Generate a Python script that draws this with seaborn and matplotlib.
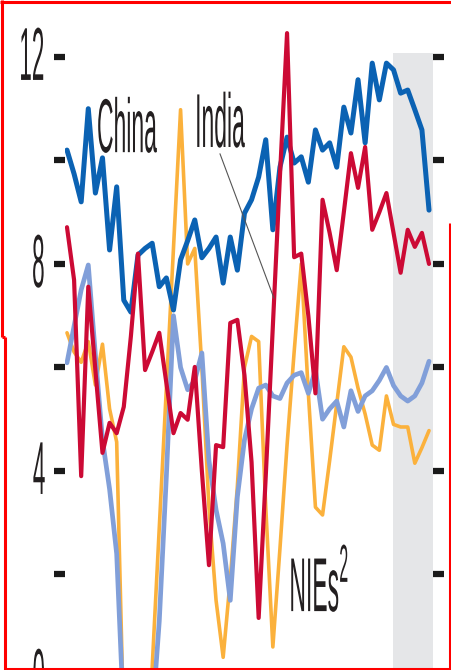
import numpy as np
import pandas as pd
import seaborn as sns
import matplotlib
matplotlib.use('Agg')
import matplotlib.pyplot as plt
from matplotlib.patheffects import AbstractPathEffect
from matplotlib.transforms import Affine2D
from matplotlib.lines import Line2D

# quarterly real GDP growth, % on a year earlier
quarters = [f"{y}Q{q}" for y in range(1996, 2009) for q in range(1, 5)]

china = [10.2, 9.74, 9.2, 11.0, 9.37, 10.05, 8.27, 9.49, 7.3, 7.07, 8.17, 8.3, 8.4,
         7.56, 7.73, 7.11, 8.08, 8.45, 8.85, 8.12, 8.3, 8.52, 7.63, 8.52, 7.88, 8.98,
         9.24, 9.68, 10.4, 8.66, 9.87, 10.45, 9.95, 10.07, 9.58, 10.59, 10.2, 10.34,
         9.87, 11.03, 10.53, 11.56, 10.34, 11.88, 11.17, 11.88, 11.75, 11.3, 11.36,
         10.98, 10.59, 9.04]
india = [8.71, 7.69, 3.9, 7.56, 5.95, 4.35, 4.93, 4.73, 5.24, 6.6, 8.2, 5.95, 6.3,
         6.67, 5.7, 4.73, 5.12, 4.99, 6.01, 4.0, 2.18, 4.5, 4.46, 6.86, 6.92, 5.85,
         4.17, 1.16, 3.9, 6.8, 9.7, 12.46, 8.13, 8.2, 7.0, 5.5, 9.24, 8.6, 7.88, 9.0,
         10.14, 9.47, 10.26, 8.66, 9.0, 9.37, 8.6, 7.83, 8.66, 8.33, 8.6, 8.0]
nies = [6.67, 6.3, 6.1, 6.5, 5.66, 6.45, 5.2, 4.56, -1.0, -3.5, -4.5, -1.5, 0.2,
        2.9, 5.6, 8.3, 10.98, 8.0, 8.3, 6.0, 3.3, 1.5, 0.4, 1.9, 3.7, 6.0, 6.6, 6.5,
        3.3, 0.6, 2.5, 4.5, 6.3, 8.0, 5.5, 3.3, 3.15, 4.2, 5.3, 6.4, 6.2, 5.6, 5.1,
        4.5, 4.4, 5.45, 4.9, 4.85, 4.85, 4.15, 4.45, 4.78]
asean4 = [6.09, 6.8, 7.5, 7.98, 6.24, 4.6, 3.65, 2.4, -0.8, -4.0, -6.0, -4.0, -0.8,
          1.1, 3.9, 7.0, 6.0, 5.57, 5.75, 6.28, 4.2, 3.25, 2.6, 1.5, 3.5, 4.6, 5.2,
          5.6, 5.66, 5.45, 5.4, 5.7, 5.85, 5.9, 5.5, 5.95, 5.0, 5.2, 5.35, 4.85, 5.55,
          5.15, 5.45, 5.55, 5.75, 6.0, 5.65, 5.45, 5.35, 5.45, 5.7, 6.12]

major_ticks = [0, 4, 8, 12]
major_labels = ['0', '4', '8', '12']
minor_ticks = [2, 6, 10]

colours = {'NIEs': '#fbb13c', 'ASEAN-4': '#819fd9', 'China': '#0b62b3', 'India': '#cc0a35'}
widths = {'NIEs': 2.6, 'ASEAN-4': 3.4, 'China': 3.6, 'India': 3.0}
text_col = '#231f20'


class Squeeze(AbstractPathEffect):
    # narrow the glyphs horizontally (condensed type face look)
    def __init__(self, sx=0.3, anchor=0.5, dy=0):
        super().__init__()
        self.sx = sx
        self.anchor = anchor
        self.dy = dy

    def draw_path(self, renderer, gc, tpath, affine, rgbFace=None):
        pts = affine.transform(tpath.vertices)
        x0, x1 = pts[:, 0].min(), pts[:, 0].max()
        cx = x0 + (x1 - x0) * self.anchor
        aff = affine + Affine2D().translate(-cx, 0).scale(self.sx, 1).translate(cx, self.dy)
        renderer.draw_path(gc, tpath, aff, rgbFace)


sns.set_theme(style='white')
plt.rcParams['font.family'] = ['Liberation Sans', 'DejaVu Sans']

df = pd.DataFrame({'pos': np.arange(len(quarters)), 'quarter': quarters,
                   'China': china, 'India': india, 'NIEs': nies, 'ASEAN-4': asean4})
long = df.melt(id_vars=['pos', 'quarter'], var_name='economy', value_name='growth')

W, H = 452, 670
fig = plt.figure(figsize=(W / 100, H / 100), dpi=100)
ax = fig.add_axes([65 / W, -20 / H, 368 / W, 690 / H])
ax.set_facecolor('white')

ylo, yhi = -0.232, 13.1
ax.set_xlim(-0.28, 51.56)
ax.set_ylim(ylo, yhi)

# shaded period at the end
ax.axvspan(45.9, 51.7, ymin=0, ymax=(12.08 - ylo) / (yhi - ylo),
           color='#e5e6e8', lw=0, zorder=0)

for z, name in enumerate(['NIEs', 'ASEAN-4', 'China', 'India']):
    sns.lineplot(data=long[long.economy == name], x='pos', y='growth',
                 color=colours[name], linewidth=widths[name], errorbar=None,
                 legend=False, ax=ax, zorder=2 + z)

for s in ax.spines.values():
    s.set_visible(False)
ax.set_xlabel('')
ax.set_ylabel('')
ax.set_xticks([])
ax.set_yticks(major_ticks)
ax.set_yticklabels(major_labels)
ax.set_yticks(minor_ticks, minor=True)
ax.tick_params(axis='y', which='both', direction='out', length=8, width=4.5,
               color='#1a1a1a', left=True, right=True, labelright=False,
               labelsize=54, labelcolor=text_col, pad=5)
for lab in ax.get_yticklabels():
    lab.set_path_effects([Squeeze(0.30, 1.0, dy=4)])

lab_kw = dict(fontsize=55, color=text_col, zorder=10)
t = ax.text(8.45, 10.16, 'China', ha='center', va='baseline', **lab_kw)
t.set_path_effects([Squeeze(0.30, 0.5)])
t = ax.annotate('India', xy=(29.15, 7.34), xytext=(21.55, 10.26),
                ha='center', va='baseline', **lab_kw,
                arrowprops=dict(arrowstyle='-', color='#555555', lw=0.8,
                                patchA=None, relpos=(0.5, 0.13),
                                shrinkA=0, shrinkB=0))
t.set_path_effects([Squeeze(0.30, 0.5)])
t = ax.text(35.56, 1.28, r'NIEs$^\mathregular{2}$', ha='center', va='baseline', **lab_kw)
t.set_path_effects([Squeeze(0.30, 0.5)])


# red frame lines around the clipping
def px(x, y):
    return x / W, 1 - y / H


frame = [((0, 1.5), (452, 1.5)), ((2.5, 0), (2.5, 337)), ((2.5, 337), (5.5, 337)),
         ((5.5, 337), (5.5, 670)), ((5.5, 668.5), (452, 668.5)), ((450, 223), (450, 670))]
for (xa, ya), (xb, yb) in frame:
    (fx0, fy0), (fx1, fy1) = px(xa, ya), px(xb, yb)
    fig.add_artist(Line2D([fx0, fx1], [fy0, fy1], transform=fig.transFigure,
                          color='#ff0000', lw=2.2, solid_capstyle='butt'))

fig.savefig('out.png', dpi=100)
